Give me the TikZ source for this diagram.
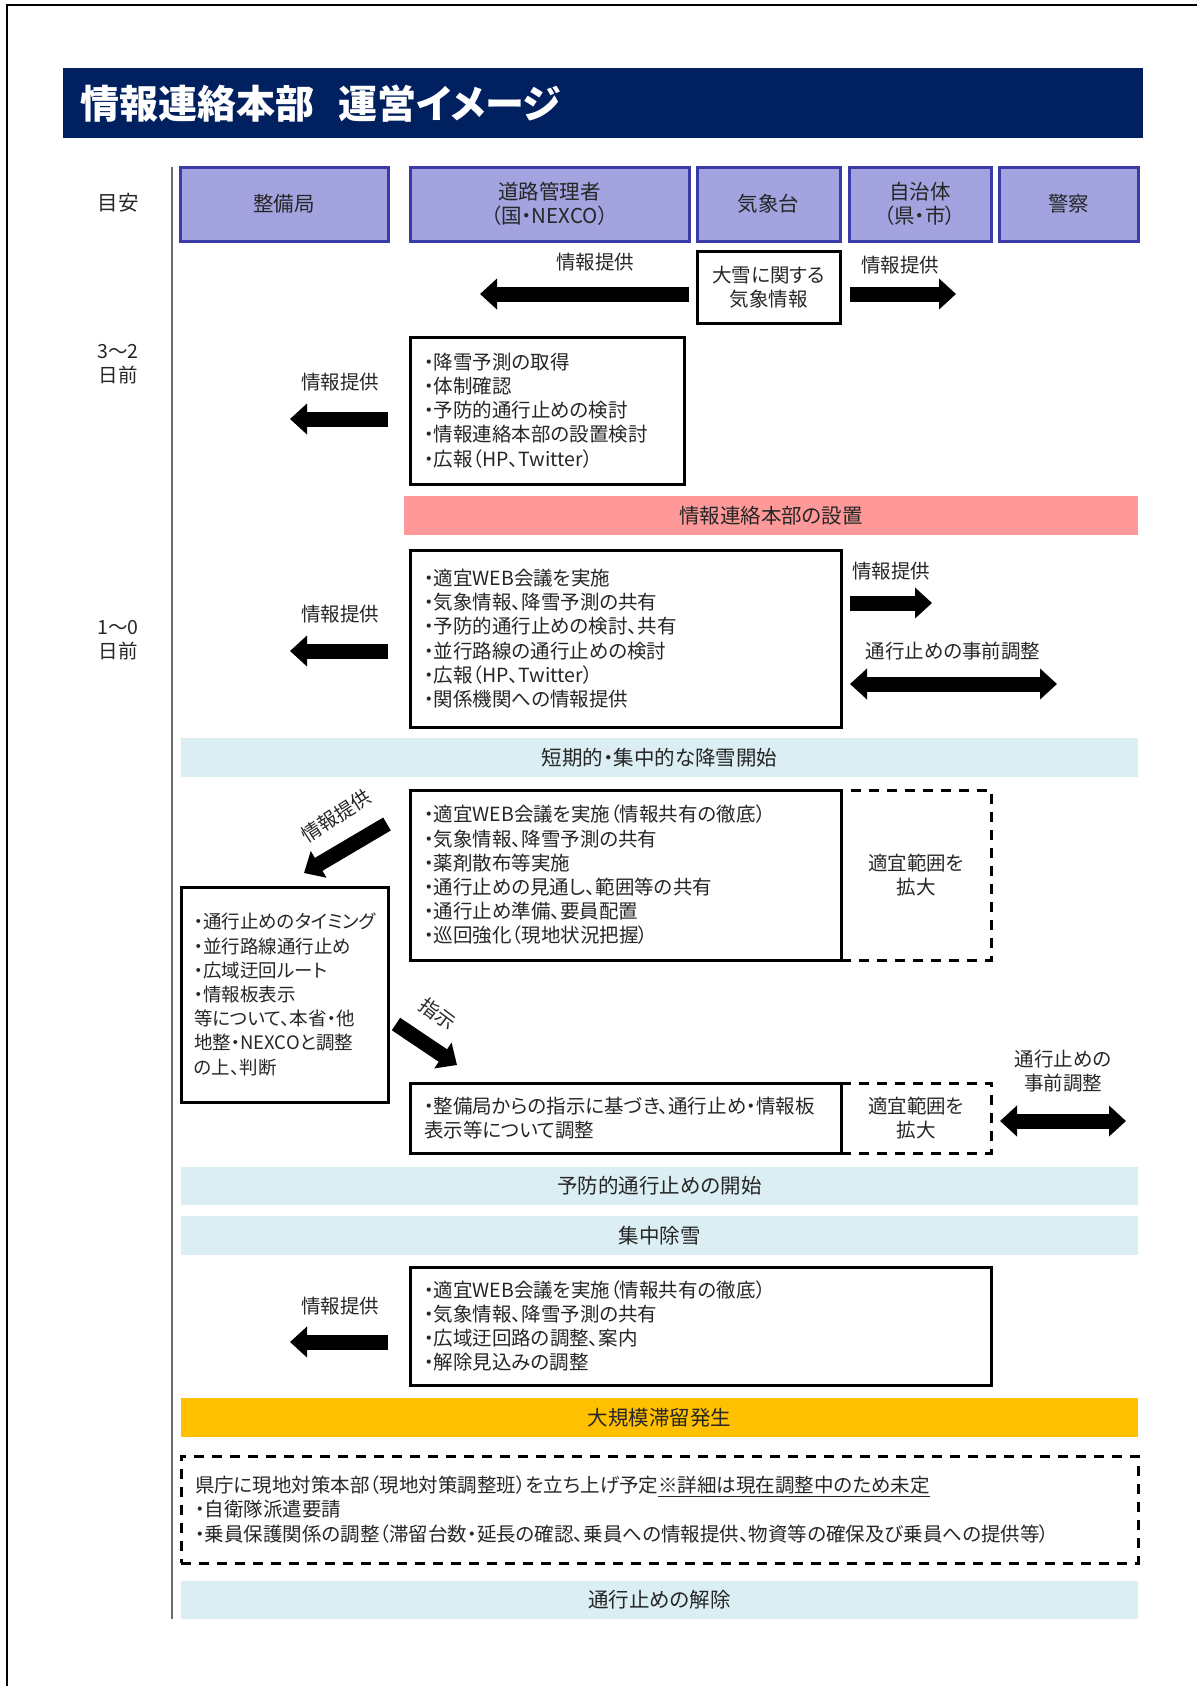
\documentclass[tikz,border=0pt]{standalone}
\usepackage{fontspec}
\setmainfont{Noto Sans CJK JP}[RawFeature=+palt]
\usetikzlibrary{arrows.meta}
\definecolor{navy}{HTML}{002060}
\definecolor{hdrfill}{HTML}{A3A3E0}
\definecolor{hdrline}{HTML}{3B3BA8}
\definecolor{pinkband}{HTML}{FF9999}
\definecolor{blueband}{HTML}{DAEEF3}
\definecolor{orangeband}{HTML}{FFC000}
\definecolor{txt}{HTML}{262626}
\definecolor{tline}{HTML}{6A6A6A}
\tikzset{
 base/.style={font=\fontsize{19.5}{24.2}\selectfont, text=txt},
 hdr/.style={font=\fontsize{20.5}{24}\selectfont, text=txt, draw=hdrline, fill=hdrfill, line width=3pt, inner sep=0pt, align=center, minimum height=74pt},
 solidbox/.style={base, draw=black, line width=3pt, fill=white, align=left, inner xsep=14pt, inner ysep=0pt},
 dashbox/.style={base, draw=black, line width=3pt, dash pattern=on 10pt off 8pt, align=center, inner sep=0pt},
 band/.style={font=\fontsize{20.5}{24}\selectfont, text=txt, inner sep=0pt, minimum height=39pt, minimum width=957pt},
 lbl/.style={base, align=center, inner sep=0pt},
 blockarrow/.style={line width=15pt, -{Triangle[length=17pt,width=30pt]}},
 dblarrow/.style={line width=15pt, {Triangle[length=17pt,width=30pt]}-{Triangle[length=17pt,width=30pt]}},
}
\begin{document}
\begin{tikzpicture}[x=1pt,y=-1pt]
\useasboundingbox (0,0) rectangle (1197,1686);
% frame
\draw[line width=2pt] (7,1686) -- (7,5) -- (1197,5);
% title
\node[fill=navy, minimum width=1080pt, minimum height=70pt, inner sep=0pt] (titlebar) at (603,103) {};
\node[anchor=west, text=white, font=\fontsize{39}{42}\selectfont\bfseries, inner sep=0pt] (title) at (80,104) {情報連絡本部\hspace{24pt}運営イメージ};
% timeline
\node[lbl, font=\fontsize{20.5}{24}\selectfont] (meyasu) at (118,203) {目安};
\node[lbl] (t32) at (118,364) {3～2\\日前};
\node[lbl] (t10) at (118,640) {1～0\\日前};
\coordinate (tlTop) at (172,167);
\coordinate (tlBot) at (172,1619);
\draw[tline, line width=2pt] (tlTop) -- (tlBot);
% headers
\node[hdr, minimum width=208pt] (h1) at (284,204) {整備局};
\node[hdr, minimum width=279pt] (h2) at (549.5,204) {道路管理者\\（国・NEXCO）};
\node[hdr, minimum width=143pt] (h3) at (768.5,204) {気象台};
\node[hdr, minimum width=142pt] (h4) at (920,204) {自治体\\（県・市）};
\node[hdr, minimum width=139pt] (h5) at (1068.5,204) {警察};
% row 1
\node[solidbox, align=center, inner xsep=0pt, minimum width=143pt, minimum height=72pt] (wx) at (768.5,287) {大雪に関する\\気象情報};
\coordinate (r1a) at (689,294);
\coordinate (r1b) at (480,294);
\draw[blockarrow] (r1a) -- (r1b);
\node[lbl] (r1lbl) at (595,262) {情報提供};
\coordinate (r1c) at (850,294);
\coordinate (r1d) at (956,294);
\draw[blockarrow] (r1c) -- (r1d);
\node[lbl] (r1rlbl) at (900,265) {情報提供};
% row 2
\node[solidbox, text width=246pt, minimum height=147pt] (b2) at (547,410.5) {・降雪予測の取得\\・体制確認\\・予防的通行止めの検討\\・情報連絡本部の設置検討\\・広報（HP、Twitter）};
\coordinate (r2a) at (388,419);
\coordinate (r2b) at (290,419);
\draw[blockarrow] (r2a) -- (r2b);
\node[lbl] (r2lbl) at (340,382) {情報提供};
% pink band
\node[band, fill=pinkband, minimum width=734pt] (setup) at (771,515.5) {情報連絡本部の設置};
% row 3
\node[solidbox, text width=403pt, minimum height=177pt] (b3) at (625.5,638.5) {・適宜WEB会議を実施\\・気象情報、降雪予測の共有\\・予防的通行止めの検討、共有\\・並行路線の通行止めの検討\\・広報（HP、Twitter）\\・関係機関への情報提供};
\coordinate (r3a) at (388,651);
\coordinate (r3b) at (290,651);
\draw[blockarrow] (r3a) -- (r3b);
\node[lbl] (r3lbl) at (340,614) {情報提供};
\coordinate (r3c) at (850,603);
\coordinate (r3d) at (932,603);
\draw[blockarrow] (r3c) -- (r3d);
\node[lbl] (r3rlbl) at (891,571) {情報提供};
\coordinate (r3e) at (850,684);
\coordinate (r3f) at (1057,684);
\draw[dblarrow] (r3e) -- (r3f);
\node[lbl] (r3dlbl) at (953,651) {通行止めの事前調整};
% band
\node[band, fill=blueband] (snow) at (659.5,757.5) {短期的・集中的な降雪開始};
% row 4
\node[dashbox, minimum width=150pt, minimum height=170pt] (d4) at (916,875) {適宜範囲を\\拡大};
\node[solidbox, text width=403pt, minimum height=170pt] (b4) at (625.5,875) {・適宜WEB会議を実施（情報共有の徹底）\\・気象情報、降雪予測の共有\\・薬剤散布等実施\\・通行止めの見通し、範囲等の共有\\・通行止め準備、要員配置\\・巡回強化（現地状況把握）};
\node[solidbox, font=\fontsize{18.5}{24.2}\selectfont, inner xsep=13pt, text width=181pt, minimum height=215pt] (bl) at (284.5,994.5) {・通行止めのタイミング\\・並行路線通行止め\\・広域迂回ルート\\・情報板表示\\等について、本省・他\\地整・NEXCOと調整\\の上、判断};
\coordinate (r4a) at (387,824);
\coordinate (r4b) at (304,873);
\draw[blockarrow] (r4a) -- (r4b);
\node[lbl, rotate=33] (r4lbl) at (336,816) {情報提供};
\coordinate (r4c) at (396,1024);
\coordinate (r4d) at (457,1065);
\draw[blockarrow] (r4c) -- (r4d);
\node[lbl, rotate=-37] (r4slbl) at (438,1014) {指示};
% row 5
\node[dashbox, minimum width=150pt, minimum height=70pt] (d5) at (916,1118) {適宜範囲を\\拡大};
\node[solidbox, text width=403pt, minimum height=70pt] (b5) at (625.5,1118) {・整備局からの指示に基づき、通行止め・情報板\\表示等について調整};
\coordinate (r5a) at (1000,1121);
\coordinate (r5b) at (1126,1121);
\draw[dblarrow] (r5a) -- (r5b);
\node[lbl] (r5lbl) at (1063,1071) {通行止めの\\事前調整};
% bands
\node[band, fill=blueband, minimum height=38pt] (prev) at (659.5,1186) {予防的通行止めの開始};
\node[band, fill=blueband] (clear) at (659.5,1235.5) {集中除雪};
% row 6
\node[solidbox, text width=553pt, minimum height=118pt] (b6) at (700.5,1326) {・適宜WEB会議を実施（情報共有の徹底）\\・気象情報、降雪予測の共有\\・広域迂回路の調整、案内\\・解除見込みの調整};
\coordinate (r6a) at (388,1342);
\coordinate (r6b) at (290,1342);
\draw[blockarrow] (r6a) -- (r6b);
\node[lbl] (r6lbl) at (340,1306) {情報提供};
% orange band
\node[band, fill=orangeband] (jam) at (659.5,1417.5) {大規模滞留発生};
% dashed big box
\node[dashbox, align=left, inner xsep=14pt, text width=929pt, minimum height=107pt] (big) at (659.5,1509.5) {県庁に現地対策本部（現地対策調整班）を立ち上げ予定\underline{※詳細は現在調整中のため未定}\\・自衛隊派遣要請\\・乗員保護関係の調整（滞留台数・延長の確認、乗員への情報提供、物資等の確保及び乗員への提供等）};
% last band
\node[band, fill=blueband, minimum height=38pt] (release) at (659.5,1600) {通行止めの解除};
\end{tikzpicture}
\end{document}
